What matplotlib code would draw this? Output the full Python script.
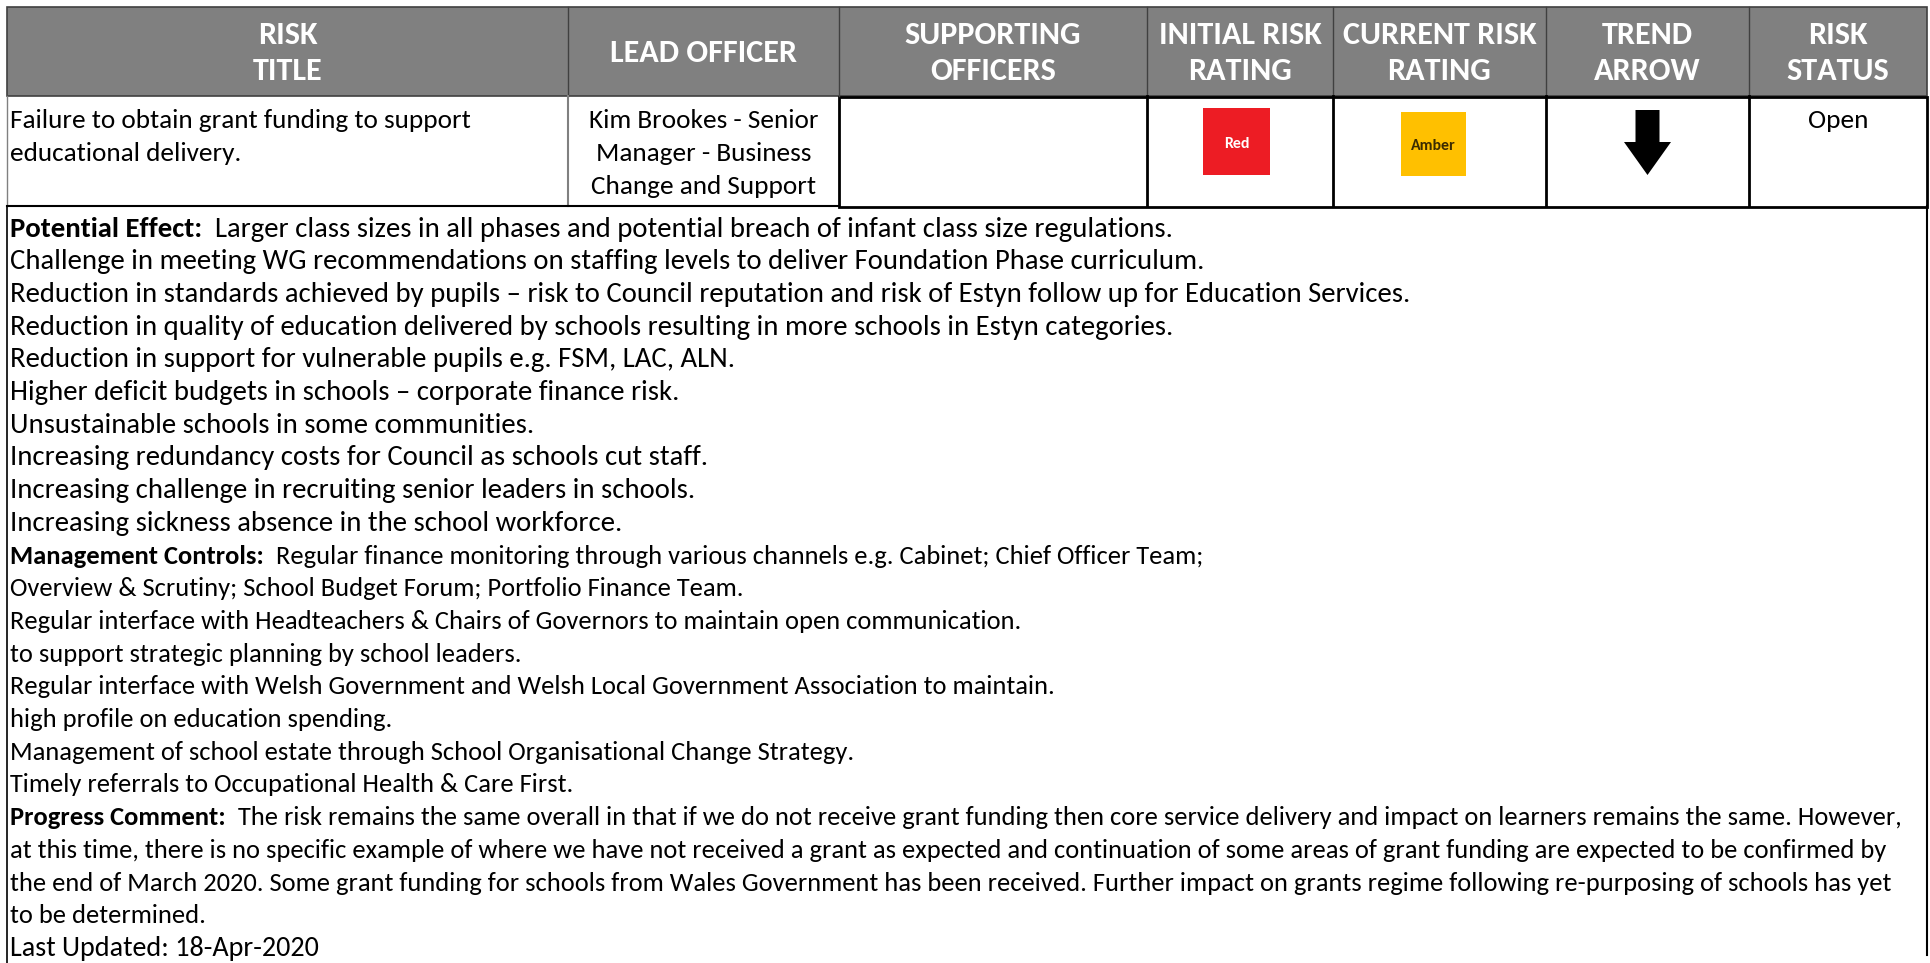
import matplotlib
matplotlib.use("Agg")
import matplotlib.pyplot as plt
from matplotlib import font_manager
from matplotlib.patches import Rectangle, Polygon

# ---- table content ----
headers = ["RISK\nTITLE", "LEAD OFFICER", "SUPPORTING\nOFFICERS", "INITIAL RISK\nRATING",
           "CURRENT RISK\nRATING", "TREND\nARROW", "RISK\nSTATUS"]
col_edges = [7, 568, 839, 1147, 1333, 1546, 1749, 1927]
risk_title = ["Failure to obtain grant funding to support", "educational delivery."]
lead_officer = ["Kim Brookes - Senior", "Manager - Business", "Change and Support"]
initial_rating = ("Red", "#ed1c24", "white")
current_rating = ("Amber", "#ffc000", "#3b2b00")
status = "Open"

potential_effect = [
    "Larger class sizes in all phases and potential breach of infant class size regulations.",
    "Challenge in meeting WG recommendations on staffing levels to deliver Foundation Phase curriculum.",
    "Reduction in standards achieved by pupils \u2013 risk to Council reputation and risk of Estyn follow up for Education Services.",
    "Reduction in quality of education delivered by schools resulting in more schools in Estyn categories.",
    "Reduction in support for vulnerable pupils e.g. FSM, LAC, ALN.",
    "Higher deficit budgets in schools \u2013 corporate finance risk.",
    "Unsustainable schools in some communities.",
    "Increasing redundancy costs for Council as schools cut staff.",
    "Increasing challenge in recruiting senior leaders in schools.",
    "Increasing sickness absence in the school workforce.",
]
management_controls = [
    "Regular finance monitoring through various channels e.g. Cabinet; Chief Officer Team;",
    "Overview & Scrutiny; School Budget Forum; Portfolio Finance Team.",
    "Regular interface with Headteachers & Chairs of Governors to maintain open communication.",
    "to support strategic planning by school leaders.",
    "Regular interface with Welsh Government and Welsh Local Government Association to maintain.",
    "high profile on education spending.",
    "Management of school estate through School Organisational Change Strategy.",
    "Timely referrals to Occupational Health & Care First.",
]
progress_comment = [
    "The risk remains the same overall in that if we do not receive grant funding then core service delivery and impact on learners remains the same. However,",
    "at this time, there is no specific example of where we have not received a grant as expected and continuation of some areas of grant funding are expected to be confirmed by",
    "the end of March 2020. Some grant funding for schools from Wales Government has been received. Further impact on grants regime following re-purposing of schools has yet",
    "to be determined.",
]
last_updated = "Last Updated: 18-Apr-2020"

sections = [
    ("Potential Effect:", potential_effect, 1.085),
    ("Management Controls:", management_controls, 1.0),
    ("Progress Comment:", progress_comment, 1.0),
    (None, [last_updated], 1.06),
]

# ---- font ----
installed = {f.name for f in font_manager.fontManager.ttflist}
family = "DejaVu Sans"
for fam in ["Carlito", "Liberation Sans Narrow", "Open Sans", "Lato"]:
    if fam in installed:
        family = fam
        break
plt.rcParams["font.family"] = [family, "DejaVu Sans"]

W, H = 1931, 963
fig = plt.figure(figsize=(W / 100, H / 100), dpi=100)
ax = fig.add_axes([0, 0, 1, 1])
ax.set_xlim(0, W)
ax.set_ylim(H, 0)
ax.axis("off")
renderer = fig.canvas.get_renderer()


def text_width(s, size, weight="normal"):
    t = ax.text(0, 0, s, fontsize=size, fontweight=weight)
    w = t.get_window_extent(renderer).width
    t.remove()
    return w


# fit font sizes to measured widths in the reference
w10 = (text_width("Progress Comment:", 10, "bold") + text_width("  ", 10)
       + text_width(progress_comment[0], 10))
body_size = 10 * 1892 / w10
head_size = 1.05 * 10 * 178 / text_width("LEAD OFFICER", 10, "bold")
row_size = body_size * 1.03

top, head_bot, row_bot = 7, 96, 206

# header band
ax.add_patch(Rectangle((col_edges[0], top), col_edges[-1] - col_edges[0], head_bot - top,
                       facecolor="#808080", edgecolor="#404040", lw=1.2))
for x in col_edges[1:-1]:
    ax.plot([x, x], [top, head_bot], color="#404040", lw=1)
for i, h in enumerate(headers):
    cx = (col_edges[i] + col_edges[i + 1]) / 2
    lines = h.split("\n")
    ys = [53] if len(lines) == 1 else [34.5, 71.5]
    for ln, y in zip(lines, ys):
        ax.text(cx, y, ln, ha="center", va="center", color="white",
                fontsize=head_size, fontweight="bold")

# first row borders
ax.plot([col_edges[0], col_edges[0]], [head_bot, row_bot], color="#808080", lw=1)
ax.plot([col_edges[1], col_edges[1]], [head_bot, row_bot], color="#808080", lw=1.5)
ax.plot([col_edges[0], col_edges[2]], [row_bot, row_bot], color="black", lw=1.5)
ax.add_patch(Rectangle((col_edges[2], head_bot + 1), col_edges[-1] - col_edges[2],
                       row_bot - head_bot, fill=False, edgecolor="black", lw=2))
for x in col_edges[3:-1]:
    ax.plot([x, x], [head_bot, row_bot], color="black", lw=2)

line_h = 32.7
y0 = 121
for k, s in enumerate(risk_title):
    ax.text(10, y0 + k * line_h, s, ha="left", va="center", fontsize=row_size)
cx = (col_edges[1] + col_edges[2]) / 2
for k, s in enumerate(lead_officer):
    ax.text(cx, y0 + k * line_h, s, ha="center", va="center", fontsize=row_size)
ax.text((col_edges[6] + col_edges[7]) / 2, y0, status, ha="center", va="center",
        fontsize=row_size)

# rating boxes
for (label, fc, tc), (x0, y1, w, h) in zip([initial_rating, current_rating],
                                           [(1203, 108, 67, 67), (1401, 112, 65, 64)]):
    ax.add_patch(Rectangle((x0, y1), w, h, facecolor=fc, edgecolor="none"))
    ax.text(x0 + w / 2, y1 + h / 2 + 2, label, ha="center", va="center", color=tc,
            fontsize=body_size * 0.6, fontweight="bold")

# trend arrow (down)
ax_c = (col_edges[5] + col_edges[6]) / 2
ax.add_patch(Polygon([(ax_c - 12, 110), (ax_c + 12, 110), (ax_c + 12, 142), (ax_c + 23.5, 142),
                      (ax_c, 175), (ax_c - 23.5, 142), (ax_c - 12, 142)],
                     closed=True, facecolor="black", edgecolor="none"))

# lower section
ax.plot([col_edges[0], col_edges[0]], [row_bot, H], color="black", lw=1.2)
ax.plot([col_edges[-1], col_edges[-1]], [row_bot, 955], color="black", lw=1.5)

y = 229
for label, lines, scale in sections:
    size = body_size * scale
    for k, s in enumerate(lines):
        x = 10
        if label and k == 0:
            t = ax.text(x, y, label, ha="left", va="center", fontsize=size, fontweight="bold")
            x += t.get_window_extent(renderer).width + text_width("  ", size)
        ax.text(x, y, s, ha="left", va="center", fontsize=size)
        y += line_h

fig.savefig("out.png", dpi=100)
